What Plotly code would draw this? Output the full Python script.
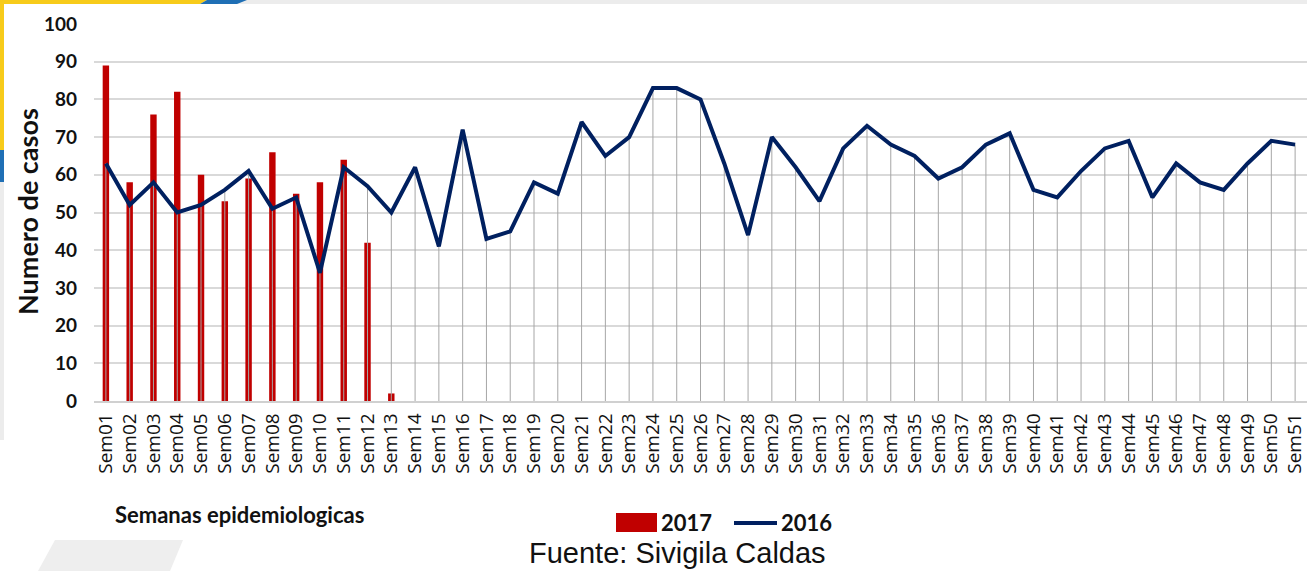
import plotly.graph_objects as go

semanas = [f"Sem{i:02d}" for i in range(1, 52)]

casos_2017 = [89, 58, 76, 82, 60, 53, 59, 66, 55, 58, 64, 42, 2]

casos_2016 = [63, 52, 58, 50, 52, 56, 61, 51, 54, 34,
              62, 57, 50, 62, 41, 72, 43, 45, 58, 55,
              74, 65, 70, 83, 83, 80, 63, 44, 70, 62,
              53, 67, 73, 68, 65, 59, 62, 68, 71, 56,
              54, 61, 67, 69, 54, 63, 58, 56, 63, 69, 68]

y_ticks = list(range(0, 101, 10))

W, H = 1307, 571
PLOT_L, PLOT_R, PLOT_T, PLOT_B = 94, 1307, 24, 401   # plot box in pixels
PW, PH = PLOT_R - PLOT_L, PLOT_B - PLOT_T


def fx(p):
    """pixel x -> paper x"""
    return (p - PLOT_L) / PW


def fy(p):
    """pixel y -> paper y"""
    return (PLOT_B - p) / PH


fig = go.Figure()

fig.add_trace(go.Bar(
    x=semanas[:len(casos_2017)], y=casos_2017, name="2017",
    marker=dict(color="#C00000", line=dict(width=0)),
    width=0.27,
))

# line with drop lines down to the axis
fig.add_trace(go.Scatter(
    x=semanas, y=casos_2016, name="2016", mode="lines",
    line=dict(color="#002060", width=4),
    error_y=dict(type="data", symmetric=False,
                 array=[0] * len(casos_2016), arrayminus=casos_2016,
                 width=0, thickness=1, color="#A6A6A6"),
))

black = "#111111"

fig.update_layout(
    width=W, height=H,
    margin=dict(l=PLOT_L, r=W - PLOT_R, t=PLOT_T, b=H - PLOT_B, pad=0),
    paper_bgcolor="white", plot_bgcolor="white",
    showlegend=False,
    xaxis=dict(
        type="category", range=[-0.5, 50.5], automargin=False,
        tickangle=-90, tickfont=dict(family="Open Sans", size=19, color=black),
        showgrid=False, ticks="", showline=True, linecolor="#D0D0D0", linewidth=1.5,
        ticklabelstandoff=3,
    ),
    yaxis=dict(
        range=[0, 100], tickvals=y_ticks, automargin=False,
        tickfont=dict(family="Lato", size=19, color=black, weight="bold"),
        showgrid=True, gridcolor="#D9D9D9", gridwidth=1.5,
        zeroline=False, showline=False, ticks="", ticklabelstandoff=16,
    ),
    annotations=[
        dict(text="Numero de casos", xref="paper", yref="paper",
             x=fx(27), y=fy(212), textangle=-90, showarrow=False,
             xanchor="center", yanchor="middle",
             font=dict(family="Lato", size=27, color=black, weight="bold")),
        dict(text="Semanas epidemiologicas", xref="paper", yref="paper",
             x=fx(113), y=fy(514), showarrow=False,
             xanchor="left", yanchor="middle",
             font=dict(family="Lato", size=22, color=black, weight="bold")),
        # legend, drawn by hand to get the wide swatch
        dict(text="2017", xref="paper", yref="paper",
             x=fx(659), y=fy(522), showarrow=False, xanchor="left", yanchor="middle",
             font=dict(family="Lato", size=22, color=black, weight="bold")),
        dict(text="2016", xref="paper", yref="paper",
             x=fx(779), y=fy(522), showarrow=False, xanchor="left", yanchor="middle",
             font=dict(family="Lato", size=22, color=black, weight="bold")),
        dict(text="Fuente: Sivigila Caldas", xref="paper", yref="paper",
             x=fx(677), y=fy(553), showarrow=False,
             xanchor="center", yanchor="middle",
             font=dict(family="Liberation Sans", size=29, color=black)),
    ],
    shapes=[
        # legend swatches
        dict(type="rect", xref="paper", yref="paper",
             x0=fx(616), x1=fx(657), y0=fy(532), y1=fy(513),
             fillcolor="#C00000", line=dict(width=0)),
        dict(type="line", xref="paper", yref="paper",
             x0=fx(734), x1=fx(777), y0=fy(523), y1=fy(523),
             line=dict(color="#002060", width=4)),
        # light gray band at the top of the slide
        dict(type="rect", xref="paper", yref="paper", layer="below",
             x0=fx(0), x1=fx(1307), y0=fy(0), y1=fy(4),
             fillcolor="#ECECEC", line=dict(width=0)),
        # yellow strip top-left
        dict(type="path", xref="paper", yref="paper", layer="below",
             path=f"M {fx(0)},{fy(0)} L {fx(207)},{fy(0)} L {fx(200)},{fy(4)} "
                  f"L {fx(0)},{fy(4)} Z",
             fillcolor="#F7CB1A", line=dict(width=0)),
        # blue wedge
        dict(type="path", xref="paper", yref="paper", layer="below",
             path=f"M {fx(207)},{fy(0)} L {fx(247)},{fy(0)} L {fx(237)},{fy(4)} "
                  f"L {fx(200)},{fy(4)} Z",
             fillcolor="#1F6FB5", line=dict(width=0)),
        # vertical strips on the left edge
        dict(type="rect", xref="paper", yref="paper", layer="below",
             x0=fx(0), x1=fx(4), y0=fy(0), y1=fy(150),
             fillcolor="#F7CB1A", line=dict(width=0)),
        dict(type="rect", xref="paper", yref="paper", layer="below",
             x0=fx(0), x1=fx(4), y0=fy(150), y1=fy(182),
             fillcolor="#1F6FB5", line=dict(width=0)),
        dict(type="rect", xref="paper", yref="paper", layer="below",
             x0=fx(0), x1=fx(4), y0=fy(182), y1=fy(440),
             fillcolor="#ECECEC", line=dict(width=0)),
        # gray parallelogram bottom-left
        dict(type="path", xref="paper", yref="paper", layer="below",
             path=f"M {fx(55)},{fy(540)} L {fx(183)},{fy(540)} L {fx(170)},{fy(571)} "
                  f"L {fx(38)},{fy(571)} Z",
             fillcolor="#EEEEEE", line=dict(width=0)),
    ],
)

# drop the default page margin so the figure fills the window exactly
fig.write_html("out.html", config={"displayModeBar": False},
               post_script="document.body.style.margin='0';document.body.style.overflow='hidden';")
